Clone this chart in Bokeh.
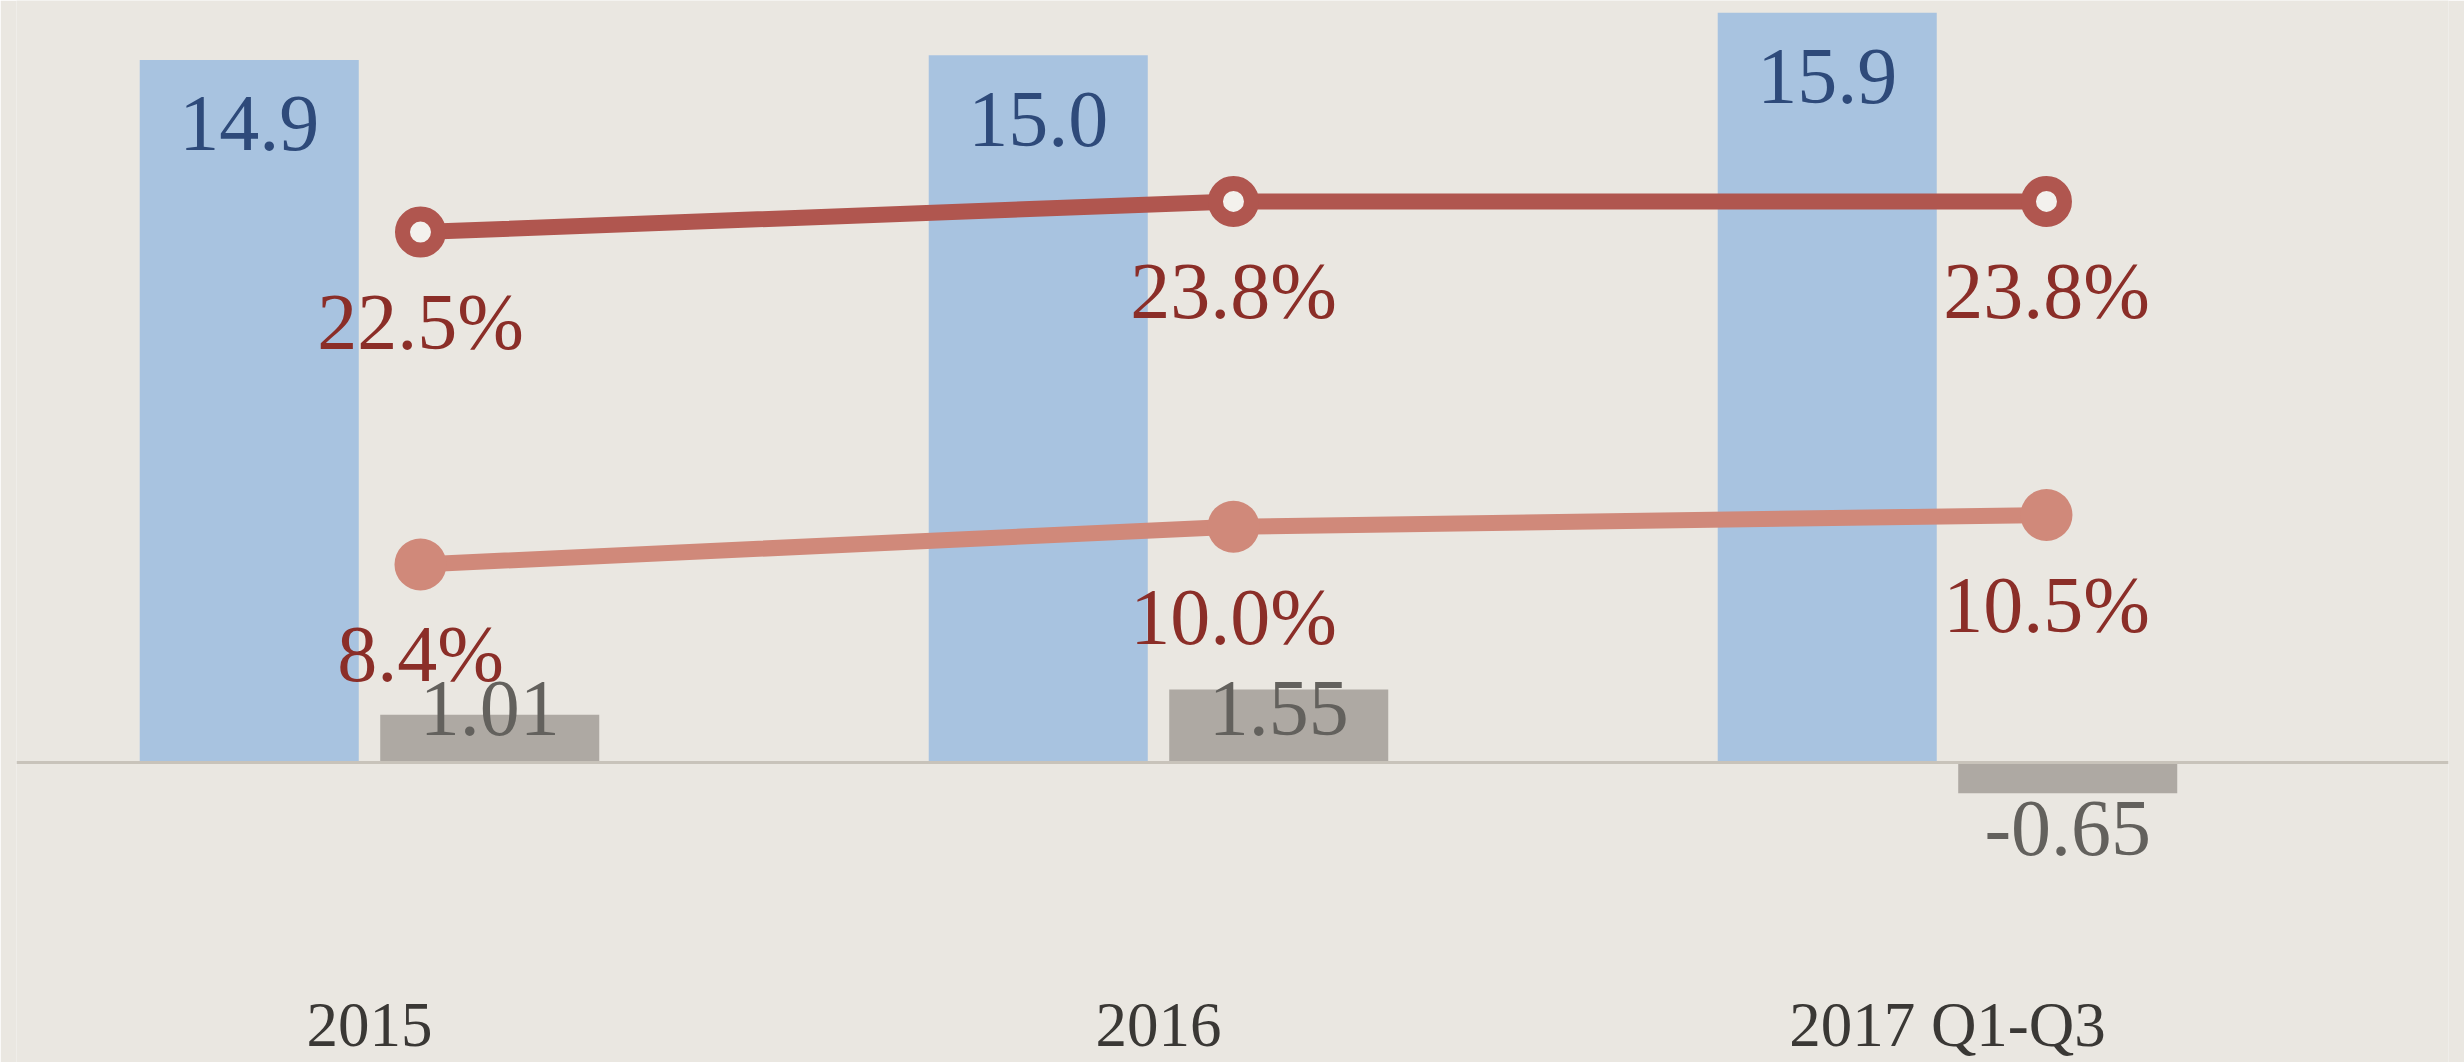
import numpy as np
from bokeh.plotting import figure
from bokeh.models import ColumnDataSource, Range1d, Span
from bokeh.transform import dodge
from bokeh.core.properties import value
from bokeh.embed import file_html
from bokeh.resources import INLINE

# ---- data ----
categories = ["2015", "2016", "2017 Q1-Q3"]
blue_values = [14.9, 15.0, 15.9]
gray_values = [1.01, 1.55, -0.65]
upper_pct = [22.5, 23.8, 23.8]
lower_pct = [8.4, 10.0, 10.5]

blue_labels = [f"{v:.1f}" for v in blue_values]
gray_labels = [f"{v:.2f}" for v in gray_values]
upper_labels = [f"{v:.1f}%" for v in upper_pct]
lower_labels = [f"{v:.1f}%" for v in lower_pct]

FONT = value("Liberation Serif")
BG = "#EAE7E1"
SHIFT = -27  # baseline correction for text rendering

idx = np.arange(len(categories))
gv = np.array(gray_values)
bar_src = ColumnDataSource(dict(
    x=idx, cat=categories, blue=blue_values, gray=gray_values,
    blue_lbl=blue_labels, gray_lbl=gray_labels,
    gray_lbl_y=np.minimum(gv, 0.0),
    gray_lbl_off=np.where(gv >= 0, -27.0, 62.0) + SHIFT,
))
line_src = ColumnDataSource(dict(
    x=idx, up=upper_pct, lo=lower_pct, up_lbl=upper_labels, lo_lbl=lower_labels,
))

p = figure(width=2464, height=1062, output_backend="svg", toolbar_location=None,
           x_axis_location=None, y_axis_location=None,
           x_range=Range1d(-0.4474, 2.635), y_range=Range1d(-6.363, 16.161),
           min_border_left=16, min_border_right=16, min_border_top=0, min_border_bottom=0,
           background_fill_color=BG, border_fill_color=BG, outline_line_color=None)
p.grid.visible = False
p.extra_x_ranges = {"lx": Range1d(-0.4969, 2.4945)}
p.extra_y_ranges = {"pct": Range1d(-12.725, 32.322)}

# bars
p.vbar(x=dodge("x", -0.1524), top="blue", bottom=0, width=0.2776, source=bar_src,
       fill_color="#A8C3E0", line_color=None)
p.vbar(x=dodge("x", 0.1524), top="gray", bottom=0, width=0.2776, source=bar_src,
       fill_color="#AEA9A3", line_color=None)

p.add_layout(Span(location=0, dimension="width", line_color="#C8C3BA", line_width=3))

# bar labels
p.text(x=dodge("x", -0.1524), y="blue", text="blue_lbl", source=bar_src, y_offset=91 + SHIFT,
       text_align="center", text_baseline="alphabetic", text_font=FONT,
       text_font_size="80px", text_color="#2E4A7A")
p.text(x=dodge("x", 0.1524), y="gray_lbl_y", text="gray_lbl", source=bar_src, y_offset="gray_lbl_off",
       text_align="center", text_baseline="alphabetic", text_font=FONT,
       text_font_size="80px", text_color="#63615D")

# lines
p.line(x="x", y="up", source=line_src, x_range_name="lx", y_range_name="pct",
       line_color="#B0564F", line_width=16)
p.scatter(x="x", y="up", source=line_src, x_range_name="lx", y_range_name="pct",
          size=36, fill_color="#F3F1ED", line_color="#B0564F", line_width=15)
p.line(x="x", y="lo", source=line_src, x_range_name="lx", y_range_name="pct",
       line_color="#D0897A", line_width=16)
p.scatter(x="x", y="lo", source=line_src, x_range_name="lx", y_range_name="pct",
          size=52, fill_color="#D0897A", line_color=None)

for col, ycol in [("up_lbl", "up"), ("lo_lbl", "lo")]:
    p.text(x="x", y=ycol, text=col, source=line_src, x_range_name="lx", y_range_name="pct",
           y_offset=117 + SHIFT, text_align="center", text_baseline="alphabetic", text_font=FONT,
           text_font_size="80px", text_color="#8B2E28")

# category labels
cat_src = ColumnDataSource(dict(x=idx, y=[-6.363] * len(categories), cat=categories))
p.text(x="x", y="y", text="cat", source=cat_src, y_offset=-38,
       text_align="center", text_baseline="alphabetic", text_font=FONT,
       text_font_size="63px", text_color="#3A3835")

open("out.html", "w").write(file_html(p, INLINE))
